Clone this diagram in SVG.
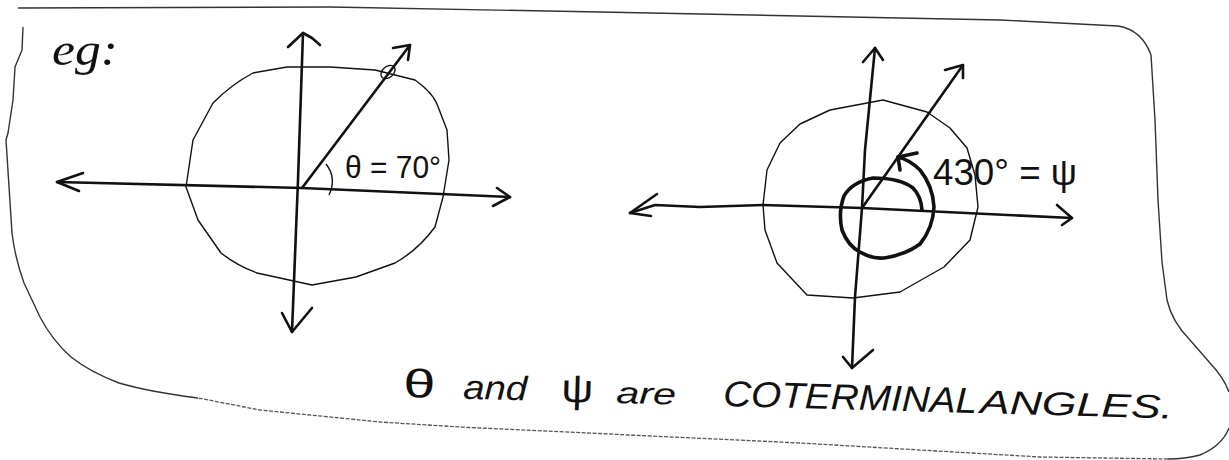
<svg xmlns="http://www.w3.org/2000/svg" width="1229" height="460" viewBox="0 0 1229 460">
  <style>
    .axis { fill: none; stroke: #111; stroke-width: 2.6; stroke-linecap: round; stroke-linejoin: round; }
    .thin { fill: none; stroke: #111; stroke-width: 1.4; stroke-linejoin: round; }
    .spiral { fill: none; stroke: #111; stroke-width: 3.6; stroke-linecap: round; stroke-linejoin: round; }
    .edge { fill: none; stroke: #333; stroke-width: 1.4; stroke-linejoin: round; }
    .edge-dot { fill: none; stroke: #555; stroke-width: 1.3; stroke-dasharray: 4 1.5; }
    .hand { font-family: "Liberation Sans", "DejaVu Sans", sans-serif; fill: #111; }
    .script { font-family: "Liberation Serif", "DejaVu Serif", serif; font-style: italic; fill: #111; }
  </style>
  <rect width="1229" height="460" fill="#ffffff"/>

  <g id="border">
    <path class="edge" d="M18,8 L330,7 L600,12 L1000,20 L1118,26 Q1142,30 1151,55 L1155,120 L1158,200 L1162,262 L1167,300 Q1172,322 1190,340 L1210,363 Q1224,378 1229,392"/>
    <path class="edge" d="M1229,428 Q1222,446 1200,455 Q1185,459 1168,459"/>
    <path class="edge-dot" d="M1168,459 L1040,457 L800,443 L460,427 L380,422 L260,410 L198,398"/>
    <path class="edge" d="M198,398 Q150,392 119,383 Q90,372 71,357 Q52,340 40,317 L24,283 Q15,258 12,233 L6,140 L8,133 L13,100 L15,67 L22,50 L23,27"/>
  </g>

  <g id="eg-label">
    <text class="script" x="52" y="65" font-size="46" textLength="66" lengthAdjust="spacingAndGlyphs">eg:</text>
  </g>

  <g id="left-diagram">
    <path id="left-circle" class="thin" d="M287,67 L330,67 L375,70 L415,80 Q432,92 437,104 L447,130 L449,160 L443,197 L435,227 Q418,250 395,263 L356,277 L312,285 L257,273 Q236,265 221,253 L198,220 L186,187 L193,140 L213,103 Q232,84 253,73 Z"/>
    <ellipse class="thin" cx="388" cy="72" rx="8" ry="5.5" transform="rotate(-40 388 72)"/>
    <path class="thin" d="M326,164 Q337,178 329,195"/>
    <g id="left-axes">
      <path class="axis" d="M303,33 L298,180 L292,332"/>
      <polyline class="axis" points="288,47 303,33 312,38 320,45"/>
      <polyline class="axis" points="282,313 292,332 312,308"/>
      <path class="axis" d="M57,182 L302,188 L510,197"/>
      <polyline class="axis" points="83,173 57,182 79,191"/>
      <polyline class="axis" points="497,188 510,197 493,206"/>
      <path class="axis" d="M302,188 L410,45"/>
      <polyline class="axis" points="393,48 410,45 408,60"/>
    </g>
    <text class="hand" x="345" y="178" font-size="32" textLength="96" lengthAdjust="spacingAndGlyphs">θ = 70°</text>
  </g>

  <g id="right-diagram">
    <path id="right-circle" class="thin" d="M883,100 L927,112 L950,128 L967,148 L975,175 L978,207 L970,240 L944,267 L900,292 L853,298 L807,295 L777,263 L765,230 L763,205 L767,170 L780,143 L800,124 L830,110 Z"/>
    <g id="right-axes">
      <path class="axis" d="M875,48 L865,150 L862,208 L855,297 L852,368"/>
      <polyline class="axis" points="863,62 875,48 883,60"/>
      <polyline class="axis" points="843,357 852,368 873,350"/>
      <path class="axis" d="M630,213 L655,205 L700,207 L763,205 L862,208 L1072,218"/>
      <polyline class="axis" points="657,194 630,213 651,216"/>
      <polyline class="axis" points="1057,205 1072,218 1062,225"/>
      <path class="axis" d="M862,208 L963,65"/>
      <polyline class="axis" points="945,70 963,65 963,78"/>
    </g>
    <path class="spiral" d="M922,210 Q921,196 913,188 Q900,178 873,178 Q852,182 844,196 Q838,212 842,230 Q848,246 860,252 Q872,259 884,258 Q905,255 920,244 Q933,228 934,207 Q933,186 920,170 Q910,160 898,157"/>
    <polyline class="spiral" points="917,153 898,157 900,170"/>
    <text class="hand" x="933" y="185" font-size="36" textLength="144" lengthAdjust="spacingAndGlyphs">430° = ψ</text>
  </g>

  <g id="caption" transform="rotate(1.6 403 397)">
    <text class="hand" x="403" y="397" font-size="40" textLength="32" lengthAdjust="spacingAndGlyphs">θ</text>
    <text class="hand" x="463" y="397" font-size="34" font-style="italic" textLength="64" lengthAdjust="spacingAndGlyphs">and</text>
    <text class="hand" x="561" y="397" font-size="40" textLength="32" lengthAdjust="spacingAndGlyphs">ψ</text>
    <text class="hand" x="616" y="397" font-size="30" font-style="italic" textLength="60" lengthAdjust="spacingAndGlyphs">are</text>
    <text class="hand" x="723" y="397" font-size="36" font-style="italic" textLength="254" lengthAdjust="spacingAndGlyphs">COTERMINAL</text>
    <text class="hand" x="980" y="397" font-size="33" font-style="italic" textLength="193" lengthAdjust="spacingAndGlyphs">ANGLES.</text>
  </g>
</svg>
